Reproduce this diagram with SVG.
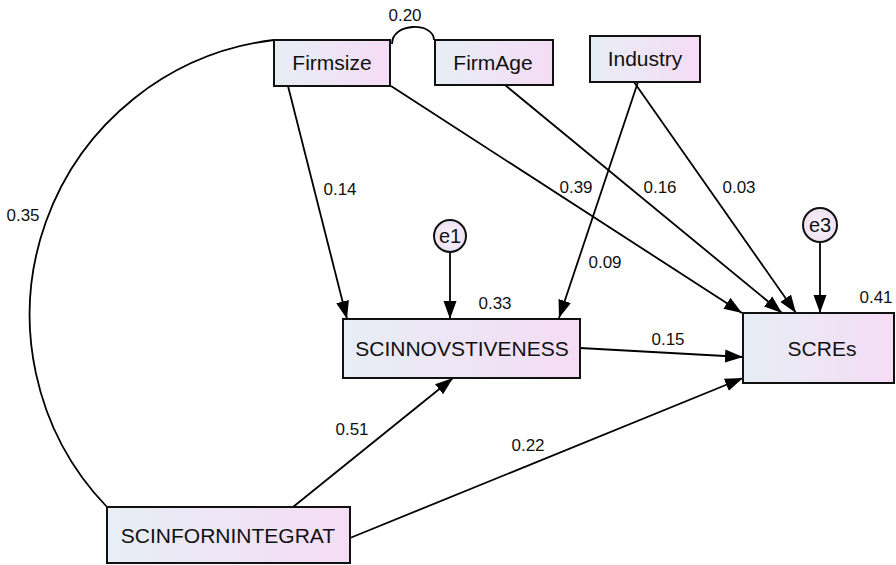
<svg xmlns="http://www.w3.org/2000/svg" width="896" height="565" viewBox="0 0 896 565">
<defs>
<linearGradient id="boxg" x1="0" y1="0" x2="1" y2="0">
<stop offset="0" stop-color="#e7eef5"/>
<stop offset="1" stop-color="#f5dcf5"/>
</linearGradient>
<radialGradient id="circg" cx="0.5" cy="0.5" r="0.5">
<stop offset="0" stop-color="#fbf7fc"/>
<stop offset="1" stop-color="#eedff2"/>
</radialGradient>
<marker id="ah" markerUnits="userSpaceOnUse" markerWidth="20" markerHeight="14" refX="18" refY="6.5" orient="auto" viewBox="0 0 20 13">
<path d="M0,0 L18,6.5 L0,13 Z" fill="#000"/>
</marker>
</defs>
<style>
.box{fill:url(#boxg);stroke:#111;stroke-width:2}
.circ{fill:url(#circg);stroke:#111;stroke-width:2}
.lbl{font-family:"Liberation Sans",Arial,sans-serif;font-size:21px;fill:#111;text-anchor:middle}
.elbl{font-family:"Liberation Sans",Arial,sans-serif;font-size:20px;fill:#111;text-anchor:middle}
.num{font-family:"Liberation Sans",Arial,sans-serif;font-size:17px;fill:#111;text-anchor:middle}
.ln{stroke:#000;stroke-width:1.8;fill:none}
.arr{stroke:#000;stroke-width:1.8;fill:none;marker-end:url(#ah)}
</style>
<rect width="896" height="565" fill="#fff"/>
<g id="connectors">
<path class="ln" d="M274,40 A277,277 0 0 0 107,507"/>
<path class="ln" d="M392,44 C392,22 434,22 434,40"/>
<line class="arr" x1="288" y1="86" x2="347" y2="319"/>
<line class="arr" x1="391" y1="86" x2="742" y2="313"/>
<line class="arr" x1="505" y1="85" x2="782" y2="313"/>
<line class="arr" x1="634" y1="82" x2="796" y2="313"/>
<line class="arr" x1="638" y1="82" x2="559" y2="318"/>
<line class="arr" x1="450" y1="252" x2="450" y2="319"/>
<line class="arr" x1="820" y1="242" x2="820" y2="313"/>
<line class="arr" x1="580" y1="348" x2="743" y2="357"/>
<line class="arr" x1="293" y1="507" x2="453" y2="378"/>
<line class="arr" x1="350" y1="538" x2="743" y2="378"/>
</g>
<g id="labels">
<text class="num" x="405" y="21">0.20</text>
<text class="num" x="23" y="221">0.35</text>
<text class="num" x="340" y="195">0.14</text>
<text class="num" x="576" y="193">0.39</text>
<text class="num" x="660" y="193">0.16</text>
<text class="num" x="739" y="193">0.03</text>
<text class="num" x="605" y="268">0.09</text>
<text class="num" x="495" y="309">0.33</text>
<text class="num" x="876" y="303">0.41</text>
<text class="num" x="668" y="345">0.15</text>
<text class="num" x="352" y="435">0.51</text>
<text class="num" x="528" y="451">0.22</text>
</g>
<g id="Firmsize"><rect class="box" x="274" y="40" width="116" height="46"/><text class="lbl" x="332" y="70">Firmsize</text></g>
<g id="FirmAge"><rect class="box" x="435" y="40" width="118" height="45"/><text class="lbl" x="493" y="70">FirmAge</text></g>
<g id="Industry"><rect class="box" x="590" y="36" width="110" height="46"/><text class="lbl" x="645" y="66">Industry</text></g>
<g id="e1"><circle class="circ" cx="450" cy="236" r="16"/><text class="elbl" x="450" y="243">e1</text></g>
<g id="e3"><circle class="circ" cx="820" cy="225" r="17"/><text class="elbl" x="820" y="232">e3</text></g>
<g id="SCINNOVSTIVENESS"><rect class="box" x="343" y="319" width="237" height="59"/><text class="lbl" x="462" y="356">SCINNOVSTIVENESS</text></g>
<g id="SCREs"><rect class="box" x="743" y="313" width="151" height="70"/><text class="lbl" x="822" y="356">SCREs</text></g>
<g id="SCINFORNINTEGRAT"><rect class="box" x="107" y="507" width="243" height="56"/><text class="lbl" x="228" y="543">SCINFORNINTEGRAT</text></g>
</svg>
